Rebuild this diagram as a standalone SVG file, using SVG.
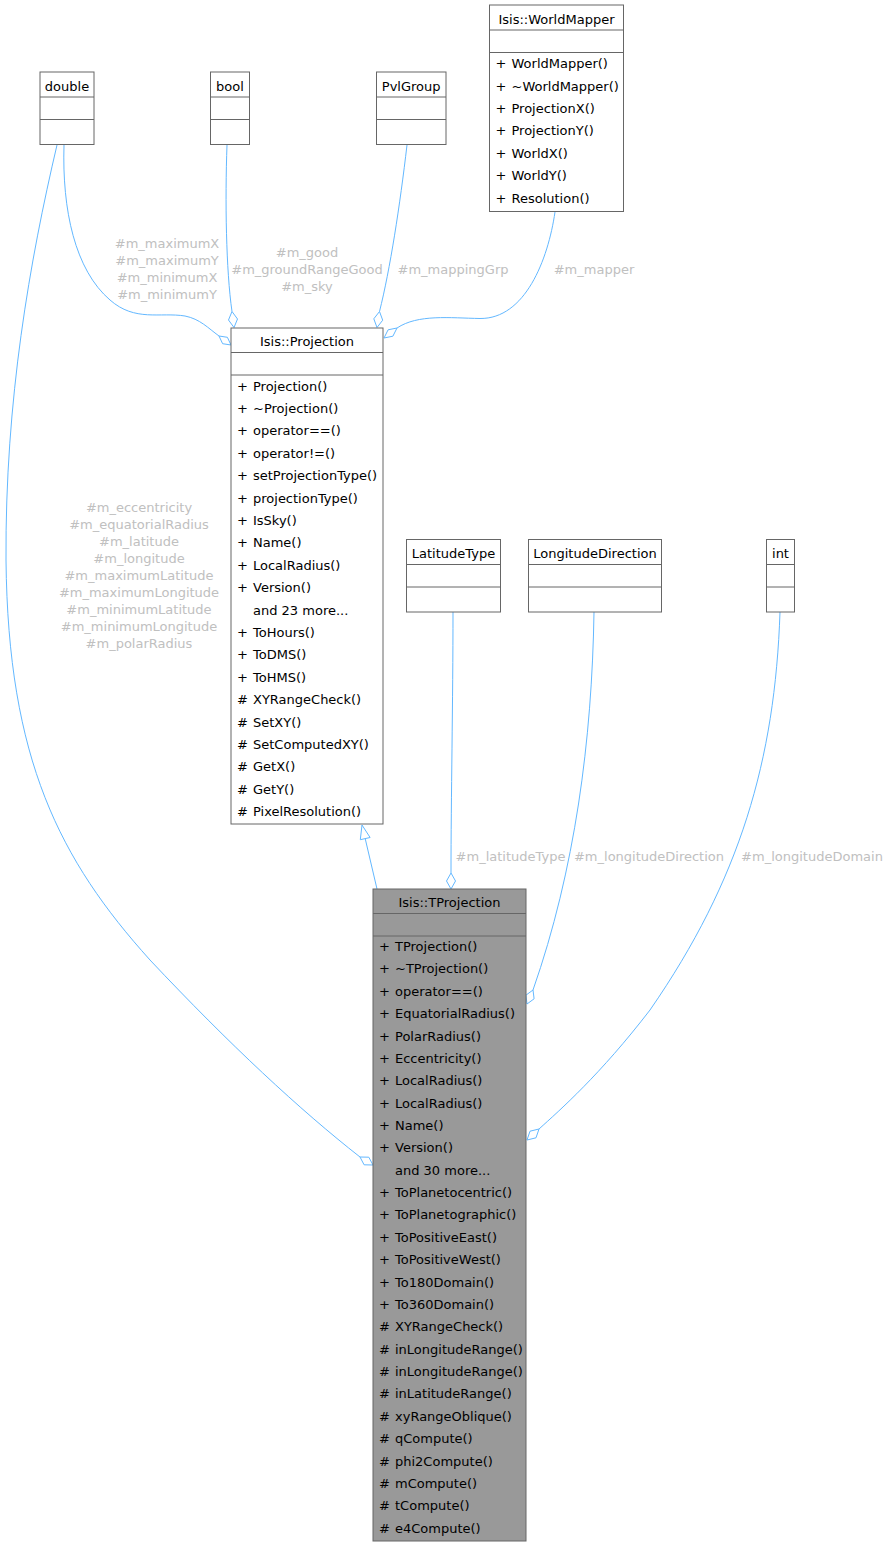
<svg xmlns="http://www.w3.org/2000/svg" width="888" height="1548" viewBox="0 0 888 1548">
<style>
text{font-family:"DejaVu Sans","Liberation Sans",sans-serif;font-size:13px;fill:#000}
.t{text-anchor:middle}
.lbl{fill:#c0c0c0;text-anchor:middle}
.box{fill:#fff;stroke:#666;stroke-width:1}
.cur{fill:#999;stroke:#666;stroke-width:1}
.ln{stroke:#666;stroke-width:1}
.e{fill:none;stroke:#63b8ff;stroke-width:1}
.ah{fill:#fff;stroke:#63b8ff;stroke-width:1}
</style>
<rect width="888" height="1548" fill="#fff"/>
<g id="edges">
<path class="e" d="M64,145 C62,210 75,270 110,300 C135,322 160,312 185,316 C200,319 208,328 219,336"/>
<polygon class="ah" points="219,336 222.6,343.7 231,345 227.4,337.3"/>
<path class="e" d="M227,145 C225,200 226,270 232,311.5"/>
<polygon class="ah" points="232,311.5 237.5,319 234,327.5 228.5,320"/>
<path class="e" d="M407,145 C400,205 390,270 379.5,311.5"/>
<polygon class="ah" points="379.5,311.5 382.7,320.2 377,327.5 373.8,318.8"/>
<path class="e" d="M555,212 C548,260 525,319 480,318.5 C450,318 418,314 397,328"/>
<polygon class="ah" points="397,328 392.9,336.2 384,338 388.1,329.8"/>
<path class="e" d="M377,889 L365.2,838.6"/>
<polygon class="ah" points="362,825 370.1,837.5 360.3,839.7"/>
<path class="e" d="M453,612 C453,700 451,800 451,873"/>
<polygon class="ah" points="451,873 455.5,881 451,889 446.5,881"/>
<path class="e" d="M594,612 C592,740 575,870 533,990"/>
<polygon class="ah" points="533,990 534.1,998.8 527,1004 525.9,995.2"/>
<path class="e" d="M780,612 C775,760 740,880 650,1010 C600,1075 560,1110 539,1129"/>
<polygon class="ah" points="539,1129 536,1137.8 527,1140 530,1131.2"/>
<path class="e" d="M57,145 C30,260 5,400 6,560 C8,760 60,860 150,960 C230,1045 300,1110 360,1157"/>
<polygon class="ah" points="360,1157 364.1,1164.8 373,1165 368.8,1157.2"/>
<text class="lbl" x="167" y="248.3">#m_maximumX</text>
<text class="lbl" x="167" y="265.3">#m_maximumY</text>
<text class="lbl" x="167" y="282.3">#m_minimumX</text>
<text class="lbl" x="167" y="299.3">#m_minimumY</text>
<text class="lbl" x="307" y="256.5">#m_good</text>
<text class="lbl" x="307" y="273.5">#m_groundRangeGood</text>
<text class="lbl" x="307" y="291">#m_sky</text>
<text class="lbl" x="453" y="273.5">#m_mappingGrp</text>
<text class="lbl" x="594" y="273.5">#m_mapper</text>
<text class="lbl" x="139" y="512.3">#m_eccentricity</text>
<text class="lbl" x="139" y="529.3">#m_equatorialRadius</text>
<text class="lbl" x="139" y="546.3">#m_latitude</text>
<text class="lbl" x="139" y="563.3">#m_longitude</text>
<text class="lbl" x="139" y="580.3">#m_maximumLatitude</text>
<text class="lbl" x="139" y="597.3">#m_maximumLongitude</text>
<text class="lbl" x="139" y="614.3">#m_minimumLatitude</text>
<text class="lbl" x="139" y="631.3">#m_minimumLongitude</text>
<text class="lbl" x="139" y="648.3">#m_polarRadius</text>
<text class="lbl" x="510.5" y="861">#m_latitudeType</text>
<text class="lbl" x="649" y="861">#m_longitudeDirection</text>
<text class="lbl" x="812" y="861">#m_longitudeDomain</text>
</g>
<g id="node-double">
<rect class="box" x="40" y="72" width="54" height="72.5"/>
<line class="ln" x1="40" y1="97" x2="94" y2="97"/>
<line class="ln" x1="40" y1="119.5" x2="94" y2="119.5"/>
<text class="t" x="67" y="90.5">double</text>
</g>
<g id="node-bool">
<rect class="box" x="210.5" y="72" width="39" height="72.5"/>
<line class="ln" x1="210.5" y1="97" x2="249.5" y2="97"/>
<line class="ln" x1="210.5" y1="119.5" x2="249.5" y2="119.5"/>
<text class="t" x="230" y="90.5">bool</text>
</g>
<g id="node-pvlgroup">
<rect class="box" x="376.5" y="72" width="69.5" height="72.5"/>
<line class="ln" x1="376.5" y1="97" x2="446" y2="97"/>
<line class="ln" x1="376.5" y1="119.5" x2="446" y2="119.5"/>
<text class="t" x="411.2" y="90.5">PvlGroup</text>
</g>
<g id="node-worldmapper">
<rect class="box" x="489.5" y="5" width="134" height="206.5"/>
<line class="ln" x1="489.5" y1="30" x2="623.5" y2="30"/>
<line class="ln" x1="489.5" y1="52.5" x2="623.5" y2="52.5"/>
<text class="t" x="556.5" y="23.5">Isis::WorldMapper</text>
<text x="495.5" y="68.2">+<tspan x="511.5">WorldMapper()</tspan></text>
<text x="495.5" y="90.6">+<tspan x="511.5">~WorldMapper()</tspan></text>
<text x="495.5" y="113">+<tspan x="511.5">ProjectionX()</tspan></text>
<text x="495.5" y="135.4">+<tspan x="511.5">ProjectionY()</tspan></text>
<text x="495.5" y="157.8">+<tspan x="511.5">WorldX()</tspan></text>
<text x="495.5" y="180.2">+<tspan x="511.5">WorldY()</tspan></text>
<text x="495.5" y="202.6">+<tspan x="511.5">Resolution()</tspan></text>
</g>
<g id="node-projection">
<rect class="box" x="231" y="328" width="152" height="496"/>
<line class="ln" x1="231" y1="352.5" x2="383" y2="352.5"/>
<line class="ln" x1="231" y1="375" x2="383" y2="375"/>
<text class="t" x="307" y="346">Isis::Projection</text>
<text x="237" y="390.5">+<tspan x="253">Projection()</tspan></text>
<text x="237" y="412.9">+<tspan x="253">~Projection()</tspan></text>
<text x="237" y="435.3">+<tspan x="253">operator==()</tspan></text>
<text x="237" y="457.7">+<tspan x="253">operator!=()</tspan></text>
<text x="237" y="480.1">+<tspan x="253">setProjectionType()</tspan></text>
<text x="237" y="502.5">+<tspan x="253">projectionType()</tspan></text>
<text x="237" y="524.9">+<tspan x="253">IsSky()</tspan></text>
<text x="237" y="547.3">+<tspan x="253">Name()</tspan></text>
<text x="237" y="569.7">+<tspan x="253">LocalRadius()</tspan></text>
<text x="237" y="592.1">+<tspan x="253">Version()</tspan></text>
<text x="253" y="614.5">and 23 more...</text>
<text x="237" y="636.9">+<tspan x="253">ToHours()</tspan></text>
<text x="237" y="659.3">+<tspan x="253">ToDMS()</tspan></text>
<text x="237" y="681.7">+<tspan x="253">ToHMS()</tspan></text>
<text x="237" y="704.1">#<tspan x="253">XYRangeCheck()</tspan></text>
<text x="237" y="726.5">#<tspan x="253">SetXY()</tspan></text>
<text x="237" y="748.9">#<tspan x="253">SetComputedXY()</tspan></text>
<text x="237" y="771.3">#<tspan x="253">GetX()</tspan></text>
<text x="237" y="793.7">#<tspan x="253">GetY()</tspan></text>
<text x="237" y="816.1">#<tspan x="253">PixelResolution()</tspan></text>
</g>
<g id="node-latitudetype">
<rect class="box" x="406.5" y="539.5" width="94" height="72.5"/>
<line class="ln" x1="406.5" y1="564.5" x2="500.5" y2="564.5"/>
<line class="ln" x1="406.5" y1="587" x2="500.5" y2="587"/>
<text class="t" x="453.5" y="558">LatitudeType</text>
</g>
<g id="node-longitudedirection">
<rect class="box" x="528.5" y="539.5" width="133" height="72.5"/>
<line class="ln" x1="528.5" y1="564.5" x2="661.5" y2="564.5"/>
<line class="ln" x1="528.5" y1="587" x2="661.5" y2="587"/>
<text class="t" x="595" y="558">LongitudeDirection</text>
</g>
<g id="node-int">
<rect class="box" x="766.5" y="539.5" width="28" height="72.5"/>
<line class="ln" x1="766.5" y1="564.5" x2="794.5" y2="564.5"/>
<line class="ln" x1="766.5" y1="587" x2="794.5" y2="587"/>
<text class="t" x="780.5" y="558">int</text>
</g>
<g id="node-tprojection">
<rect class="cur" x="373" y="889" width="153" height="652"/>
<line class="ln" x1="373" y1="913.5" x2="526" y2="913.5"/>
<line class="ln" x1="373" y1="936" x2="526" y2="936"/>
<text class="t" x="449.5" y="907">Isis::TProjection</text>
<text x="379" y="951">+<tspan x="395">TProjection()</tspan></text>
<text x="379" y="973.4">+<tspan x="395">~TProjection()</tspan></text>
<text x="379" y="995.7">+<tspan x="395">operator==()</tspan></text>
<text x="379" y="1018.1">+<tspan x="395">EquatorialRadius()</tspan></text>
<text x="379" y="1040.5">+<tspan x="395">PolarRadius()</tspan></text>
<text x="379" y="1062.9">+<tspan x="395">Eccentricity()</tspan></text>
<text x="379" y="1085.2">+<tspan x="395">LocalRadius()</tspan></text>
<text x="379" y="1107.6">+<tspan x="395">LocalRadius()</tspan></text>
<text x="379" y="1130">+<tspan x="395">Name()</tspan></text>
<text x="379" y="1152.3">+<tspan x="395">Version()</tspan></text>
<text x="395" y="1174.7">and 30 more...</text>
<text x="379" y="1197.1">+<tspan x="395">ToPlanetocentric()</tspan></text>
<text x="379" y="1219.4">+<tspan x="395">ToPlanetographic()</tspan></text>
<text x="379" y="1241.8">+<tspan x="395">ToPositiveEast()</tspan></text>
<text x="379" y="1264.2">+<tspan x="395">ToPositiveWest()</tspan></text>
<text x="379" y="1286.6">+<tspan x="395">To180Domain()</tspan></text>
<text x="379" y="1308.9">+<tspan x="395">To360Domain()</tspan></text>
<text x="379" y="1331.3">#<tspan x="395">XYRangeCheck()</tspan></text>
<text x="379" y="1353.7">#<tspan x="395">inLongitudeRange()</tspan></text>
<text x="379" y="1376">#<tspan x="395">inLongitudeRange()</tspan></text>
<text x="379" y="1398.4">#<tspan x="395">inLatitudeRange()</tspan></text>
<text x="379" y="1420.8">#<tspan x="395">xyRangeOblique()</tspan></text>
<text x="379" y="1443.1">#<tspan x="395">qCompute()</tspan></text>
<text x="379" y="1465.5">#<tspan x="395">phi2Compute()</tspan></text>
<text x="379" y="1487.9">#<tspan x="395">mCompute()</tspan></text>
<text x="379" y="1510.3">#<tspan x="395">tCompute()</tspan></text>
<text x="379" y="1532.6">#<tspan x="395">e4Compute()</tspan></text>
</g>
</svg>
